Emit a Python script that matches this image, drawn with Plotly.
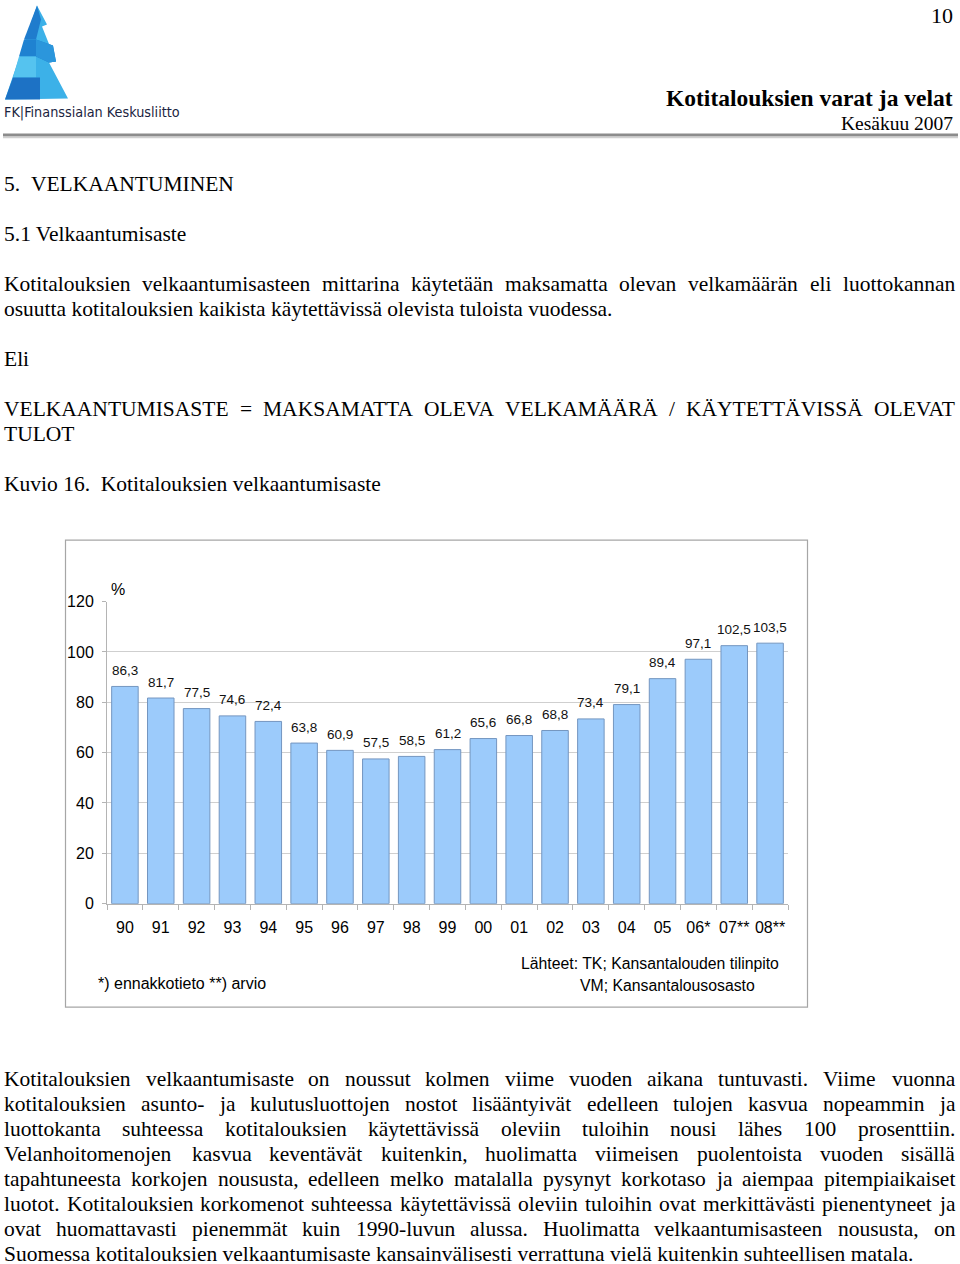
import plotly.graph_objects as go

W, H = 960, 1264

# ---------------- data ----------------
years = ["90", "91", "92", "93", "94", "95", "96", "97", "98", "99",
         "00", "01", "02", "03", "04", "05", "06*", "07**", "08**"]
values = [86.3, 81.7, 77.5, 74.6, 72.4, 63.8, 60.9, 57.5, 58.5, 61.2,
          65.6, 66.8, 68.8, 73.4, 79.1, 89.4, 97.1, 102.5, 103.5]
value_labels = [f"{v:.1f}".replace(".", ",") for v in values]
y_ticks = [0, 20, 40, 60, 80, 100, 120]

SERIF = "Liberation Serif, Times New Roman, serif"
SANS = "Liberation Sans, Arial, sans-serif"
BODY = 21.5

# vertical correction observed in the rendering pipeline
VA, VB = 0.9865, 8.4


def px(x):
    return x / W


def py(y):
    return 1 - ((y - VB) / VA) / H


# Times metrics (per 1000 em) for justification
TW = {" ": 250, "!": 333, "%": 833, "(": 333, ")": 333, "*": 500, ",": 250, "-": 333,
      ".": 250, "/": 278, ":": 278, ";": 278, "=": 564}
for d in "0123456789":
    TW[d] = 500
up = dict(A=722, B=667, C=667, D=722, E=611, F=556, G=722, H=722, I=333, J=389, K=722,
          L=611, M=889, N=722, O=722, P=556, Q=722, R=667, S=556, T=611, U=722, V=722,
          W=944, X=722, Y=722, Z=611)
lo = dict(a=444, b=500, c=444, d=500, e=444, f=333, g=500, h=500, i=278, j=278, k=500,
          l=278, m=778, n=500, o=500, p=500, q=500, r=333, s=389, t=278, u=500, v=500,
          w=722, x=500, y=500, z=444)
TW.update(up)
TW.update(lo)
TW.update({"ä": 444, "ö": 500, "å": 444, "Ä": 722, "Ö": 722})
KERN = {"AT": -111, "TA": -93, "AV": -135, "VA": -135, "LT": -92, "AY": -105, "YA": -120}


def tw(s, size):
    w = sum(TW.get(c, 500) for c in s)
    w += sum(KERN.get(s[i:i + 2], 0) for i in range(len(s) - 1))
    return w * size / 1000.0


annotations = []
shapes = []


def text(x, y, s, size=BODY, anchor="left", family=SERIF, color="#000"):
    annotations.append(dict(x=px(x), y=py(y), xref="paper", yref="paper", text=s,
                            showarrow=False, xanchor=anchor, yanchor="middle",
                            font=dict(family=family, size=size, color=color),
                            borderpad=0))


def justified(line, y, x0=3, x1=954, size=BODY):
    words = line.split(" ")
    ws = [tw(w, size) for w in words]
    gap = (x1 - x0 - sum(ws)) / (len(words) - 1)
    x = x0
    for w, wd in zip(words, ws):
        text(x, y, w, size)
        x += wd + gap


# ---------------- page header ----------------
text(954, 16, "10", size=22, anchor="right")
text(954, 98, "<b>Kotitalouksien varat ja velat</b>", size=23.5, anchor="right")
text(954, 123.5, "Kesäkuu 2007", size=19.5, anchor="right")
shapes.append(dict(type="line", xref="paper", yref="paper", x0=px(3), x1=px(958),
                   y0=py(135.5), y1=py(135.5), line=dict(color="#8c8c8c", width=3)))
shapes.append(dict(type="line", xref="paper", yref="paper", x0=px(3), x1=px(958),
                   y0=py(138), y1=py(138), line=dict(color="#d0d0d0", width=1.5)))


# ---------------- logo ----------------
def path(pts):
    return "M " + " L ".join(f"{px(a):.5f},{py(b):.5f}" for a, b in pts) + " Z"


def poly(pts, color):
    shapes.append(dict(type="path", xref="paper", yref="paper", path=path(pts),
                       fillcolor=color, line=dict(width=0)))


poly([(37, 6), (47, 25), (42, 27), (56, 62), (49, 63), (68, 99), (5, 100)], "#3cb1e8")
poly([(37, 6), (41, 20), (36, 40), (24, 40)], "#1f7ccd")
poly([(24, 40), (36, 40), (53, 46), (56, 62), (49, 63), (36, 57), (19, 57)], "#1f82d1")
poly([(36, 40), (53, 46), (56, 62), (49, 63), (36, 57)], "#2b96dc")
poly([(19, 57), (36, 57), (36, 78), (13, 78)], "#55c3ef")
poly([(13, 78), (40, 78), (40, 100), (5, 100)], "#1d72c5")
text(3, 113, "FK|Finanssialan Keskusliitto", size=14.3,
     family="Liberation Sans Narrow, DejaVu Sans Condensed, Arial Narrow, sans-serif",
     color="#1b2440")

# ---------------- body text top ----------------
text(3, 184, "5.\u00a0\u00a0VELKAANTUMINEN")
text(3, 234, "5.1 Velkaantumisaste")
justified("Kotitalouksien velkaantumisasteen mittarina käytetään maksamatta olevan velkamäärän eli luottokannan", 284)
text(3, 309, "osuutta kotitalouksien kaikista käytettävissä olevista tuloista vuodessa.")
text(3, 359, "Eli")
justified("VELKAANTUMISASTE = MAKSAMATTA OLEVA VELKAMÄÄRÄ / KÄYTETTÄVISSÄ OLEVAT", 409)
text(3, 434, "TULOT")
text(3, 484, "Kuvio 16.\u00a0\u00a0Kotitalouksien velkaantumisaste")

# ---------------- body text bottom ----------------
para = [
    "Kotitalouksien velkaantumisaste on noussut kolmen viime vuoden aikana tuntuvasti. Viime vuonna",
    "kotitalouksien asunto- ja kulutusluottojen nostot lisääntyivät edelleen tulojen kasvua nopeammin ja",
    "luottokanta suhteessa kotitalouksien käytettävissä oleviin tuloihin nousi lähes 100 prosenttiin.",
    "Velanhoitomenojen kasvua keventävät kuitenkin, huolimatta viimeisen puolentoista vuoden sisällä",
    "tapahtuneesta korkojen noususta, edelleen melko matalalla pysynyt korkotaso ja aiempaa pitempiaikaiset",
    "luotot. Kotitalouksien korkomenot suhteessa käytettävissä oleviin tuloihin ovat merkittävästi pienentyneet ja",
    "ovat huomattavasti pienemmät kuin 1990-luvun alussa. Huolimatta velkaantumisasteen noususta, on",
]
for i, ln in enumerate(para):
    justified(ln, 1079 + 25 * i)
text(3, 1254, "Suomessa kotitalouksien velkaantumisaste kansainvälisesti verrattuna vielä kuitenkin suhteellisen matala.")

# ---------------- chart frame & chart texts ----------------
shapes.append(dict(type="rect", xref="paper", yref="paper", x0=px(65.5), x1=px(807.5),
                   y0=py(540.5), y1=py(1007.5), line=dict(color="#a6a6a6", width=1.2),
                   fillcolor="rgba(0,0,0,0)", layer="below"))
text(110, 590, "%", size=16, family=SANS)
text(97, 983.5, "*) ennakkotieto **) arvio", size=16, family=SANS)
text(520, 963.5, "Lähteet: TK; Kansantalouden tilinpito", size=15.8, family=SANS)
text(579, 985.5, "VM; Kansantalousosasto", size=15.8, family=SANS)

# value labels above bars
for i, (v, lab) in enumerate(zip(values, value_labels)):
    annotations.append(dict(x=i, y=v, xref="x", yref="y", text=lab, showarrow=False,
                            xanchor="center", yanchor="middle", yshift=16,
                            font=dict(family=SANS, size=13.5, color="#111")))

fig = go.Figure()
fig.add_trace(go.Bar(x=years, y=values, marker=dict(color="#9ccbfb",
                                                      line=dict(color="#7496c0", width=1)),
                     width=0.74, hoverinfo="skip"))

fig.update_layout(
    width=W, height=H, margin=dict(l=0, r=0, t=0, b=0),
    paper_bgcolor="white", plot_bgcolor="white", showlegend=False,
    annotations=annotations, shapes=shapes,
    xaxis=dict(domain=[px(107), px(788)], type="category", range=[-0.5, len(years) - 0.5],
               categoryorder="array", categoryarray=years, showgrid=False,
               showline=True, linecolor="#b4b4b4", linewidth=1, tickangle=0,
               ticks="outside", tickson="boundaries", ticklen=5, tickcolor="#b4b4b4",
               tickfont=dict(family=SANS, size=16, color="#000"), ticklabelstandoff=9,
               zeroline=False, fixedrange=True),
    yaxis=dict(domain=[py(904), py(602)], range=[0, 120], tickvals=y_ticks,
               showgrid=True, gridcolor="#cfcfcf", gridwidth=1,
               showline=True, linecolor="#b4b4b4", linewidth=1,
               ticks="outside", ticklen=4, tickcolor="#b4b4b4",
               tickfont=dict(family=SANS, size=16, color="#000"), ticklabelstandoff=5,
               zeroline=False, fixedrange=True),
)

fig.write_html("out.html")
